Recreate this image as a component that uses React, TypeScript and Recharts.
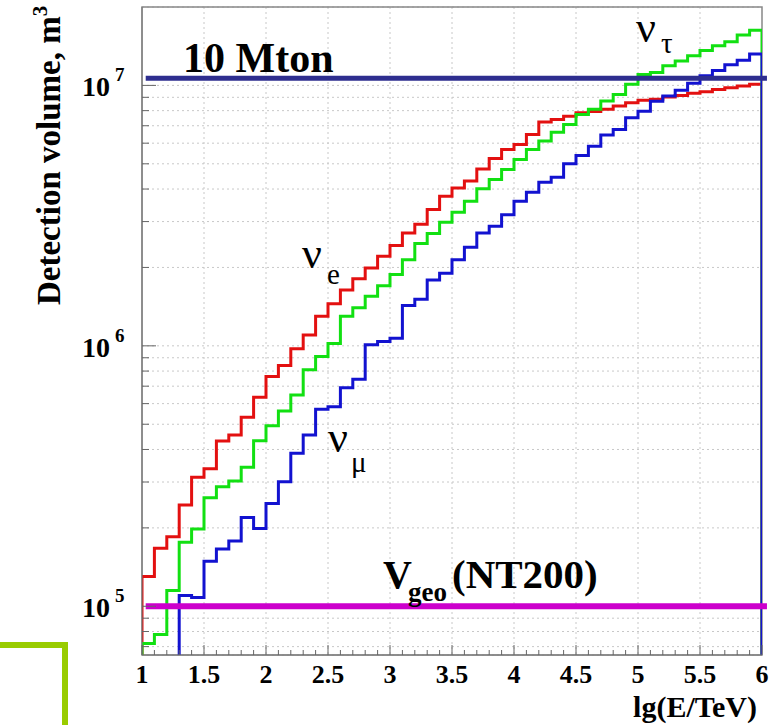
import {
  LineChart,
  Line,
  XAxis,
  YAxis,
  CartesianGrid,
  ReferenceLine,
  ReferenceArea,
} from 'recharts'

// lg(E/TeV) histogram binning
const X_MIN = 1
const X_MAX = 6
const BIN_WIDTH = 0.1

// detection volume per bin, m^3
const nuE = [
  1.3e5, 1.67e5, 1.85e5, 2.45e5, 3.13e5, 3.37e5, 4.31e5, 4.55e5, 5.32e5, 6.35e5,
  7.62e5, 8.4e5, 9.74e5, 1.1e6, 1.3e6, 1.45e6, 1.64e6, 1.81e6, 1.99e6, 2.21e6,
  2.43e6, 2.71e6, 2.93e6, 3.34e6, 3.75e6, 4.04e6, 4.29e6, 4.78e6, 5.24e6, 5.67e6,
  5.93e6, 6.48e6, 7.23e6, 7.4e6, 7.62e6, 7.85e6, 7.94e6, 8.09e6, 8.33e6, 8.58e6,
  8.76e6, 8.84e6, 9.02e6, 9.15e6, 9.32e6, 9.46e6, 9.65e6, 9.8e6, 9.94e6, 1.01e7,
]

const nuTau = [
  7.19e4, 7.8e4, 1.15e5, 1.76e5, 1.98e5, 2.61e5, 2.88e5, 3.03e5, 3.42e5, 4.32e5,
  4.93e5, 5.62e5, 6.48e5, 8.09e5, 9.1e5, 1.02e6, 1.3e6, 1.4e6, 1.55e6, 1.7e6,
  1.88e6, 2.14e6, 2.47e6, 2.7e6, 2.98e6, 3.26e6, 3.59e6, 4.01e6, 4.35e6, 4.75e6,
  5.19e6, 5.67e6, 6.11e6, 6.61e6, 7.08e6, 7.74e6, 8.09e6, 8.72e6, 9.23e6, 1.01e7,
  1.1e7, 1.12e7, 1.19e7, 1.24e7, 1.3e7, 1.36e7, 1.42e7, 1.47e7, 1.56e7, 1.63e7,
]

const nuMu = [
  null, null, null, 1.1e5, 1.08e5, 1.49e5, 1.66e5, 1.78e5, 2.19e5, 1.99e5,
  2.48e5, 3.01e5, 3.87e5, 4.55e5, 5.71e5, 5.84e5, 6.91e5, 7.45e5, 1.01e6, 1.04e6,
  1.07e6, 1.43e6, 1.51e6, 1.79e6, 1.9e6, 2.14e6, 2.39e6, 2.71e6, 2.88e6, 3.19e6,
  3.59e6, 3.89e6, 4.25e6, 4.44e6, 5.0e6, 5.38e6, 5.84e6, 6.45e6, 6.77e6, 7.51e6,
  7.96e6, 8.7e6, 9.1e6, 9.57e6, 1.02e7, 1.09e7, 1.14e7, 1.2e7, 1.25e7, 1.32e7,
]

const TEN_MTON = 1.065e7
const V_GEO = 1e5
const Y_DOMAIN: [number, number] = [6.5e4, 2e7]

const xTicks = Array.from({ length: 51 }, (_, i) => Math.round((X_MIN + i * BIN_WIDTH) * 10) / 10)
const xGrid = [1.5, 2, 2.5, 3, 3.5, 4, 4.5, 5, 5.5]
const yTicks: number[] = []
for (const decade of [1e4, 1e5, 1e6]) {
  for (let m = 1; m <= 9; m++) {
    const v = m * decade
    if (v >= Y_DOMAIN[0]) yTicks.push(v)
  }
}
yTicks.push(1e7)

const SERIF = '"Liberation Serif", "Times New Roman", serif'

// ROOT-style histogram outline: rises from the frame bottom, drops back at the end
function histSteps(values: (number | null)[]) {
  const first = values.findIndex((v) => v !== null)
  const pts: { x: number; v: number }[] = []
  pts.push({ x: X_MIN + first * BIN_WIDTH, v: Y_DOMAIN[0] })
  for (let i = first; i < values.length; i++) {
    pts.push({ x: X_MIN + i * BIN_WIDTH, v: values[i] as number })
  }
  pts.push({ x: X_MAX, v: values[values.length - 1] as number })
  pts.push({ x: X_MAX, v: Y_DOMAIN[0] })
  return pts
}

function XTick({ x, y, payload }: any) {
  const v = payload.value
  const major = Math.abs(v * 2 - Math.round(v * 2)) < 1e-6
  return (
    <g>
      <line x1={x} x2={x} y1={y} y2={y - (major ? 10 : 5)} stroke="#666" />
      {major && (
        <text x={x} y={y + 28} textAnchor="middle" fontFamily={SERIF} fontWeight="bold" fontSize={26} fill="#000">
          {Math.round(v * 10) / 10}
        </text>
      )}
    </g>
  )
}

function YTick({ x, y, payload }: any) {
  const v = payload.value
  const exp = Math.round(Math.log10(v))
  const decade = Math.abs(v - Math.pow(10, exp)) < 1e-3 * v
  return (
    <g>
      <line x1={x} x2={x + (decade ? 14 : 7)} y1={y} y2={y} stroke="#666" />
      {decade && (
        <text fontFamily={SERIF} fontWeight="bold" fill="#000">
          <tspan x={x - 32} y={y + 11} fontSize={28} textAnchor="end">10</tspan>
          <tspan x={x - 27} y={y - 4} fontSize={19}>{exp}</tspan>
        </text>
      )}
    </g>
  )
}

export default function App() {
  return (
    <div style={{ position: 'absolute', left: 0, top: 0, width: 777, height: 725, background: '#fff' }}>
      <LineChart width={777} height={725} margin={{ top: 7, right: 15, bottom: 0, left: 0 }}>
        <CartesianGrid stroke="#c8c8c8" strokeDasharray="2 3" verticalValues={xGrid} />
        <XAxis
          dataKey="x"
          type="number"
          domain={[X_MIN, X_MAX]}
          ticks={xTicks}
          interval={0}
          height={70}
          tickSize={0}
          tickMargin={0}
          tick={<XTick />}
          axisLine={{ stroke: '#777' }}
          allowDataOverflow
        />
        <YAxis
          type="number"
          scale="log"
          domain={Y_DOMAIN}
          ticks={yTicks}
          interval={0}
          width={142}
          tickSize={0}
          tickMargin={0}
          tick={<YTick />}
          axisLine={{ stroke: '#777' }}
          allowDataOverflow
        />
        <ReferenceArea x1={X_MIN} x2={X_MAX} y1={Y_DOMAIN[0]} y2={Y_DOMAIN[1]} fill="none" stroke="#888" strokeWidth={1.5} />
        <Line data={histSteps(nuE)} dataKey="v" type="stepAfter" stroke="#e31010" strokeWidth={3} dot={false} isAnimationActive={false} />
        <Line data={histSteps(nuTau)} dataKey="v" type="stepAfter" stroke="#12e012" strokeWidth={3} dot={false} isAnimationActive={false} />
        <Line data={histSteps(nuMu)} dataKey="v" type="stepAfter" stroke="#1212d0" strokeWidth={3} dot={false} isAnimationActive={false} />
        <ReferenceLine
          segment={[{ x: 1.03, y: TEN_MTON }, { x: 6.04, y: TEN_MTON }]}
          stroke="#2e2e8f"
          strokeWidth={5}
          ifOverflow="visible"
        />
        <ReferenceLine
          segment={[{ x: 1.03, y: V_GEO }, { x: 6.04, y: V_GEO }]}
          stroke="#cc00cc"
          strokeWidth={6}
          ifOverflow="visible"
        />
      </LineChart>
      <svg
        width={777}
        height={725}
        style={{ position: 'absolute', left: 0, top: 0, pointerEvents: 'none' }}
        fontFamily={SERIF}
      >
        <polyline points="0,645 65,645 65,725" fill="none" stroke="#99cc00" strokeWidth={6} />
        <text transform="rotate(-90)" x={-305} y={60} fontSize={33} fontWeight="bold">
          Detection volume, m<tspan dy={-13} fontSize={21}>3</tspan>
        </text>
        <text x={757} y={717} textAnchor="end" fontSize={30} fontWeight="bold">lg(E/TeV)</text>
        <text x={183} y={72} fontSize={42} fontWeight="bold">10 Mton</text>
        <text x={302} y={268} fontSize={44}>ν</text>
        <text x={327} y={284} fontSize={29}>e</text>
        <text x={328} y={452} fontSize={44}>ν</text>
        <text x={351} y={472} fontSize={29}>μ</text>
        <text x={636} y={42} fontSize={44}>ν</text>
        <text x={661} y={53} fontSize={29}>τ</text>
        <text x={383} y={588} fontSize={40} fontWeight="bold">V</text>
        <text x={408} y={601} fontSize={27} fontWeight="bold">geo</text>
        <text x={452} y={588} fontSize={41} fontWeight="bold">(NT200)</text>
      </svg>
    </div>
  )
}
